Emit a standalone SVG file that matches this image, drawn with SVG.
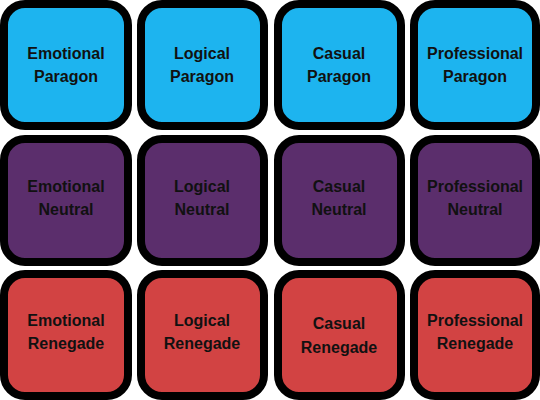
<svg xmlns="http://www.w3.org/2000/svg" width="540" height="400" viewBox="0 0 540 400">
<style>
.b{stroke:#000;stroke-width:8}
.p{fill:#1db4ef}
.n{fill:#5b2e6c}
.r{fill:#d24343}
text{font-family:"Liberation Sans",Arial,sans-serif;font-weight:bold;font-size:16px;fill:#111;text-anchor:middle}
</style>
<rect width="540" height="400" fill="#fff"/>
<g id="emotional-paragon"><rect class="b p" x="4" y="4" width="124" height="122" rx="21"/><text x="66" y="59">Emotional</text><text x="66" y="82">Paragon</text></g>
<g id="logical-paragon"><rect class="b p" x="141" y="4" width="123" height="122" rx="21"/><text x="202" y="59">Logical</text><text x="202" y="82">Paragon</text></g>
<g id="casual-paragon"><rect class="b p" x="278" y="4" width="123" height="122" rx="21"/><text x="339" y="59">Casual</text><text x="339" y="82">Paragon</text></g>
<g id="professional-paragon"><rect class="b p" x="414" y="4" width="122" height="122" rx="21"/><text x="475" y="59">Professional</text><text x="475" y="82">Paragon</text></g>
<g id="emotional-neutral"><rect class="b n" x="4" y="139" width="124" height="123" rx="21"/><text x="66" y="192">Emotional</text><text x="66" y="215">Neutral</text></g>
<g id="logical-neutral"><rect class="b n" x="141" y="139" width="123" height="123" rx="21"/><text x="202" y="192">Logical</text><text x="202" y="215">Neutral</text></g>
<g id="casual-neutral"><rect class="b n" x="278" y="139" width="123" height="123" rx="21"/><text x="339" y="192">Casual</text><text x="339" y="215">Neutral</text></g>
<g id="professional-neutral"><rect class="b n" x="414" y="139" width="122" height="123" rx="21"/><text x="475" y="192">Professional</text><text x="475" y="215">Neutral</text></g>
<g id="emotional-renegade"><rect class="b r" x="4" y="274" width="124" height="122" rx="21"/><text x="66" y="326">Emotional</text><text x="66" y="349">Renegade</text></g>
<g id="logical-renegade"><rect class="b r" x="141" y="274" width="123" height="122" rx="21"/><text x="202" y="326">Logical</text><text x="202" y="349">Renegade</text></g>
<g id="casual-renegade"><rect class="b r" x="278" y="274" width="123" height="122" rx="21"/><text x="339" y="329">Casual</text><text x="339" y="353">Renegade</text></g>
<g id="professional-renegade"><rect class="b r" x="414" y="274" width="122" height="122" rx="21"/><text x="475" y="326">Professional</text><text x="475" y="349">Renegade</text></g>
<g id="connectors"/>
</svg>
